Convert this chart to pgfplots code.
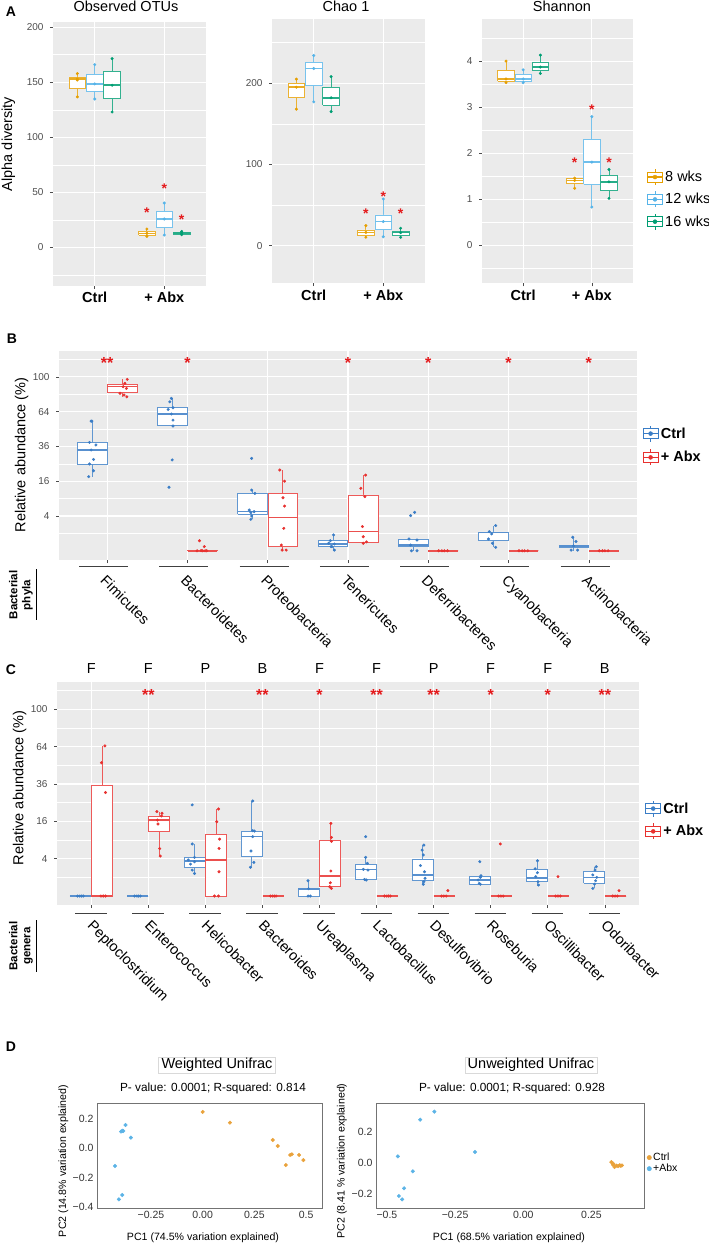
\documentclass[border=0pt]{standalone}
\usepackage{fontspec}
\setmainfont{Liberation Sans}
\usepackage{pgfplots}
\pgfplotsset{compat=1.18}

\definecolor{panel}{HTML}{EBEBEB}
\definecolor{tickgray}{HTML}{4D4D4D}
\definecolor{aOr}{HTML}{E69F00}
\definecolor{aBl}{HTML}{56B4E9}
\definecolor{aGr}{HTML}{009E73}
\definecolor{cBl}{HTML}{3A7DC6}
\definecolor{xRd}{HTML}{E8312F}
\definecolor{sRd}{HTML}{E41A1C}
\definecolor{dOr}{HTML}{E9A23B}
\definecolor{dBl}{HTML}{5BB3E6}

\newcommand{\fs}[1]{\fontsize{#1}{#1}\selectfont}
\def\bhw{0.12}% half width of a box, axis units
\def\sfs{14}% size of the significance stars
% box: colour, position, lower whisker, lower quartile, median, upper quartile, upper whisker
\newcommand{\bx}[7]{%
  \pgfmathsetmacro\xa{#2-\bhw}\pgfmathsetmacro\xb{#2+\bhw}%
  \edef\tmp{%
  \noexpand\addplot[forget plot, draw=#1!80, line width=0.8pt] coordinates {(#2,#3) (#2,#4)};
  \noexpand\addplot[forget plot, draw=#1!80, line width=0.8pt] coordinates {(#2,#6) (#2,#7)};
  \noexpand\addplot[forget plot, draw=#1!80, fill=white, line width=0.8pt]
     coordinates {(\xa,#4) (\xb,#4) (\xb,#6) (\xa,#6) (\xa,#4)};
  \noexpand\addplot[forget plot, draw=#1!85, line width=1.6pt] coordinates {(\xa,#5) (\xb,#5)};}%
  \tmp}
\newcommand{\pts}[2]{\addplot[forget plot, only marks, mark=*, mark size=1.3pt, color=#1] coordinates {#2};}
\newcommand{\sig}[3]{\node[text=sRd, font=\bfseries\fs{\sfs}, inner sep=0pt, yshift=-3pt] at (axis cs:#1,#2) {#3};}

\pgfplotsset{
  legend image code/.code={
    \draw[#1, line width=0.8pt, fill=white] (0pt,-5pt) rectangle (15pt,5pt);
    \draw[#1, line width=0.8pt] (7.5pt,5pt) -- (7.5pt,8pt) (7.5pt,-5pt) -- (7.5pt,-8pt);
    \draw[#1, line width=1.4pt] (0pt,0pt) -- (15pt,0pt);
    \fill[#1] (7.5pt,0pt) circle (2pt);
  },
  gg/.style={scale only axis, anchor=north west,
    axis background/.style={fill=panel}, axis line style={draw=none},
    xmajorgrids, ymajorgrids, yminorgrids,
    major grid style={white, line width=1.1pt}, minor grid style={white, line width=0.5pt},
    tick align=outside, tick pos=left, major tick length=3pt, minor tick length=0pt,
    tick style={black!70, line width=0.5pt},
    yticklabel style={font=\fs{10}, text=tickgray, xshift=-3pt},
    /pgf/number format/assume math mode=true,
    clip=false, legend cell align=left,
  },
  ggA/.style={gg, width=153pt, height=264pt, xmin=0.4, xmax=2.6,
    xtick={1,2}, xticklabels={Ctrl,+ Abx},
    xticklabel style={font=\bfseries\fs{14.5}, text=black}},
  ggB/.style={gg, ymin=-0.53, ymax=11.48,
    ytick={2,4,6,8,10}, yticklabels={4,16,36,64,100}, minor ytick={1,3,5,7,9,11},
    legend style={draw=none, fill=none, inner sep=0pt, font=\bfseries\fs{14.5}, nodes={inner sep=2pt}}},
}

\begin{document}
\begin{tikzpicture}
\useasboundingbox (0,0) rectangle (709pt,-1243pt);

% ---------------- A: observed OTUs
\begin{axis}[ggA, at={(53pt,-21.7pt)}, ymin=-34.8, ymax=205,
  ytick={0,50,100,150,200}, minor ytick={-25,25,75,125,175}]
\bx{aOr}{0.75}{136.7}{144.5}{153}{154.8}{157.9}
\pts{aOr}{(0.75,157.9) (0.75,153) (0.75,152) (0.75,136.7)}
\bx{aBl}{1}{134.8}{141.5}{148.5}{157.3}{166}
\pts{aBl}{(1,166) (1,148.5) (1,134.8)}
\bx{aGr}{1.25}{123}{135.2}{147.3}{159.7}{171.5}
\pts{aGr}{(1.25,171.5) (1.25,147.3) (1.25,123)}
\bx{aOr}{1.75}{10}{10.9}{12.7}{14.5}{16.7}
\pts{aOr}{(1.75,16.7) (1.75,12.7) (1.75,10)}
\bx{aBl}{2}{11.2}{17.9}{25.8}{32.7}{40.3}
\pts{aBl}{(2,40.3) (2,25.8) (2,11.2)}
\bx{aGr}{2.25}{11.5}{11.8}{13}{13.9}{14.5}
\pts{aGr}{(2.25,14.5) (2.25,13) (2.25,11.5)}
\sig{1.75}{34.2}{*}\sig{2}{56}{*}\sig{2.25}{27.9}{*}
\end{axis}

% ---------------- A: Chao 1
\begin{axis}[ggA, at={(272pt,-19pt)}, ymin=-46, ymax=279,
  ytick={0,100,200}, minor ytick={50,150,250}]
\bx{aOr}{0.75}{168}{182}{195}{200}{205}
\pts{aOr}{(0.75,205) (0.75,195) (0.75,168)}
\bx{aBl}{1}{177}{197}{218}{226}{234}
\pts{aBl}{(1,234) (1,218) (1,177)}
\bx{aGr}{1.25}{165}{173}{182}{195}{208}
\pts{aGr}{(1.25,208) (1.25,182) (1.25,165)}
\bx{aOr}{1.75}{10.3}{12.3}{16.4}{19.3}{24.6}
\pts{aOr}{(1.75,24.6) (1.75,16.4) (1.75,10.3)}
\bx{aBl}{2}{11}{20.1}{29.6}{37.8}{57.5}
\pts{aBl}{(2,57.5) (2,29.6) (2,11)}
\bx{aGr}{2.25}{10.3}{12.7}{16}{18}{21.4}
\pts{aGr}{(2.25,21.4) (2.25,16) (2.25,10.3)}
\sig{1.75}{43}{*}\sig{2}{64.5}{*}\sig{2.25}{43}{*}
\end{axis}

% ---------------- A: Shannon
\begin{axis}[ggA, at={(482pt,-19.3pt)}, width=151pt, ymin=-0.83, ymax=4.92,
  ytick={0,1,2,3,4}, minor ytick={-0.5,0.5,1.5,2.5,3.5,4.5},
  legend style={at={(1.09,0.435)}, anchor=north west, draw=none, fill=none,
    inner sep=0pt, font=\fs{14.5}, row sep=5.5pt, nodes={inner sep=2pt}}]
\bx{aOr}{0.75}{3.54}{3.57}{3.62}{3.81}{4.01}
\pts{aOr}{(0.75,4.01) (0.75,3.62) (0.75,3.54)}
\bx{aBl}{1}{3.54}{3.57}{3.62}{3.71}{3.82}
\pts{aBl}{(1,3.82) (1,3.62) (1,3.54)}
\bx{aGr}{1.25}{3.74}{3.81}{3.88}{3.99}{4.14}
\pts{aGr}{(1.25,4.14) (1.25,3.88) (1.25,3.74)}
\bx{aOr}{1.75}{1.24}{1.35}{1.41}{1.46}{1.46}
\pts{aOr}{(1.75,1.46) (1.75,1.41) (1.75,1.24)}
\bx{aBl}{2}{0.83}{1.33}{1.81}{2.30}{2.80}
\pts{aBl}{(2,2.80) (2,1.81) (2,0.83)}
\bx{aGr}{2.25}{1.02}{1.19}{1.38}{1.51}{1.65}
\pts{aGr}{(2.25,1.65) (2.25,1.38) (2.25,1.02)}
\sig{1.75}{1.86}{*}\sig{2}{3.01}{*}\sig{2.25}{1.86}{*}
\addlegendimage{aOr}\addlegendentry{8 wks}
\addlegendimage{aBl}\addlegendentry{12 wks}
\addlegendimage{aGr}\addlegendentry{16 wks}
\end{axis}

\def\bhw{0.185}
\def\sfs{16}
% ---------------- B: phyla (y in square-root scale, values = sqrt of %)
\begin{axis}[ggB, at={(59pt,-351pt)}, width=578pt, height=209pt, xmin=0.4, xmax=7.6,
  xtick={1,...,7},
  xticklabels={Fimicutes,Bacteroidetes,Proteobacteria,Tenericutes,Deferribacteres,Cyanobacteria,Actinobacteria},
  xticklabel style={font=\fs{14.5}, text=black, xshift=0pt, yshift=-11pt, rotate=-45, anchor=north west, inner sep=0pt},
  legend style={at={(1.009,0.646)}, anchor=north west, row sep=7pt}]
\bx{cBl}{0.8125}{4.26}{4.99}{5.79}{6.21}{7.45}
\pts{cBl}{(0.80,7.45) (0.81,7.45) (0.78,6.23) (0.86,6.08) (0.80,5.79) (0.83,5.25) (0.78,4.99) (0.83,4.60) (0.77,4.26)}
\bx{xRd}{1.1875}{8.85}{9.10}{9.43}{9.56}{9.85}
\pts{xRd}{(1.25,9.85) (1.22,9.62) (1.20,9.43) (1.24,9.33) (1.16,9.05) (1.245,8.85) (1.21,8.95)}
\bx{cBl}{1.8125}{7.1}{7.19}{7.86}{8.22}{8.76}
\pts{cBl}{(1.80,8.76) (1.78,8.56) (1.82,8.22) (1.76,8.12) (1.80,7.86) (1.82,7.51) (1.82,7.17) (1.81,5.22) (1.77,3.65)}
\bx{xRd}{2.1875}{0}{0}{0}{0.04}{0.04}
\pts{xRd}{(2.15,0.58) (2.21,0.24) (2.17,0.01) (2.22,0) (2.12,0) (2.19,0) (2.24,0)}
\bx{cBl}{2.8125}{1.81}{2.10}{2.25}{3.30}{3.49}
\pts{cBl}{(2.80,5.31) (2.80,3.49) (2.84,3.30) (2.77,2.34) (2.83,2.25) (2.79,2.19) (2.80,2.0) (2.79,1.81)}
\bx{xRd}{3.1875}{0}{0.24}{1.92}{3.30}{4.64}
\pts{xRd}{(3.15,4.64) (3.21,4.0) (3.19,3.05) (3.21,2.57) (3.20,1.29) (3.17,0.33) (3.18,0.04) (3.23,0.04)}
\bx{cBl}{3.8125}{0}{0.24}{0.39}{0.58}{0.91}
\pts{cBl}{(3.82,0.91) (3.78,0.58) (3.76,0.43) (3.83,0.39) (3.80,0.24) (3.83,0.04) (3.79,0.24)}
\bx{xRd}{4.1875}{0.39}{0.47}{1.10}{3.21}{4.35}
\pts{xRd}{(4.22,4.35) (4.16,3.59) (4.21,3.11) (4.18,1.39) (4.19,0.81) (4.19,0.43) (4.23,0.51)}
\bx{cBl}{4.8125}{0}{0.24}{0.33}{0.68}{0.68}
\pts{cBl}{(4.78,2.02) (4.83,2.21) (4.76,0.68) (4.86,0.62) (4.78,0.33) (4.79,0) (4.86,0)}
\bx{xRd}{5.1875}{0}{0}{0}{0}{0}
\pts{xRd}{(5.13,0) (5.17,0) (5.20,0) (5.24,0)}
\bx{cBl}{5.8125}{0.20}{0.58}{1.06}{1.08}{1.45}
\pts{cBl}{(5.84,1.45) (5.76,1.10) (5.79,0.97) (5.75,0.68) (5.80,0.43) (5.84,0.20)}
\bx{xRd}{6.1875}{0}{0}{0}{0}{0}
\pts{xRd}{(6.13,0) (6.17,0) (6.20,0) (6.24,0)}
\bx{cBl}{6.8125}{0}{0.20}{0.28}{0.33}{0.78}
\pts{cBl}{(6.80,0.78) (6.84,0.53) (6.81,0.28) (6.78,0.04) (6.86,0.04)}
\bx{xRd}{7.1875}{0}{0}{0}{0}{0}
\pts{xRd}{(7.13,0) (7.17,0) (7.20,0) (7.24,0)}
\sig{1}{10.96}{**}\sig{2}{10.96}{*}\sig{4}{10.96}{*}\sig{5}{10.96}{*}\sig{6}{10.96}{*}\sig{7}{10.96}{*}
\foreach \c in {1,...,7} {\edef\tmp{\noexpand\draw[line width=1pt, black!75] (axis cs:\c-0.35,-0.93) -- (axis cs:\c+0.26,-0.93);}\tmp}
\addlegendimage{cBl}\addlegendentry{Ctrl}
\addlegendimage{xRd}\addlegendentry{+ Abx}
\end{axis}

% ---------------- C: genera
\begin{axis}[ggB, at={(57pt,-682pt)}, width=582pt, height=223pt, xmin=0.4, xmax=10.6,
  ymin=-0.48, ymax=11.46, xtick={1,...,10},
  xticklabels={Peptoclostridium,Enterococcus,Helicobacter,Bacteroides,Ureaplasma,Lactobacillus,Desulfovibrio,Roseburia,Oscillibacter,Odoribacter},
  xticklabel style={font=\fs{14.5}, text=black, xshift=3pt, yshift=-11pt, rotate=-45, anchor=north west, inner sep=0pt},
  legend style={at={(1.010,0.471)}, anchor=north west, row sep=6pt}]
\bx{cBl}{0.8125}{0}{0}{0}{0}{0}
\pts{cBl}{(0.76,0) (0.80,0) (0.83,0) (0.86,0)}
\bx{xRd}{1.1875}{0}{0}{0}{5.93}{8.04}
\pts{xRd}{(1.24,8.04) (1.18,7.14) (1.25,5.54) (1.17,0) (1.21,0) (1.25,0)}
\bx{cBl}{1.8125}{0}{0}{0}{0}{0}
\pts{cBl}{(1.76,0) (1.80,0) (1.83,0) (1.86,0)}
\bx{xRd}{2.1875}{2.14}{3.48}{4.07}{4.29}{4.52}
\pts{xRd}{(2.15,4.52) (2.24,4.43) (2.23,4.29) (2.16,4.07) (2.17,3.86) (2.20,2.54) (2.21,2.14)}
\bx{cBl}{2.8125}{1.21}{1.54}{1.89}{2.05}{2.79}
\pts{cBl}{(2.77,4.88) (2.77,2.79) (2.81,2.07) (2.70,1.93) (2.81,1.84) (2.74,1.71) (2.77,1.39) (2.81,1.21)}
\bx{xRd}{3.1875}{0}{0}{1.93}{3.30}{4.66}
\pts{xRd}{(3.23,4.66) (3.20,3.98) (3.25,3.05) (3.24,2.55) (3.24,1.30) (3.16,0) (3.23,0)}
\bx{cBl}{3.8125}{1.54}{2.11}{3.18}{3.48}{5.09}
\pts{cBl}{(3.83,5.09) (3.83,3.50) (3.86,3.48) (3.83,3.18) (3.80,2.41) (3.85,1.80) (3.79,1.54)}
\bx{xRd}{4.1875}{0}{0}{0}{0}{0}
\pts{xRd}{(4.14,0) (4.18,0) (4.21,0) (4.24,0)}
\bx{cBl}{4.8125}{0}{0}{0.39}{0.39}{0.82}
\pts{cBl}{(4.80,0.82) (4.81,0.39) (4.80,0) (4.84,0)}
\bx{xRd}{5.1875}{0.41}{0.50}{1.07}{2.96}{3.89}
\pts{xRd}{(5.20,3.89) (5.21,3.14) (5.21,2.93) (5.20,1.34) (5.19,0.71) (5.18,0.50) (5.21,0.41)}
\bx{cBl}{5.8125}{0.86}{0.89}{1.43}{1.71}{2.02}
\pts{cBl}{(5.81,3.18) (5.81,2.07) (5.84,1.75) (5.77,1.43) (5.85,1.39) (5.79,0.89) (5.82,0.86)}
\bx{xRd}{6.1875}{0}{0}{0}{0}{0}
\pts{xRd}{(6.14,0) (6.18,0) (6.21,0) (6.24,0)}
\bx{cBl}{6.8125}{0.63}{0.86}{1.13}{1.98}{2.73}
\pts{cBl}{(6.83,2.73) (6.80,2.46) (6.82,2.20) (6.77,1.63) (6.84,1.30) (6.85,0.95) (6.83,0.77) (6.82,0.63)}
\bx{xRd}{7.1875}{0}{0}{0}{0}{0}
\pts{xRd}{(7.25,0.29) (7.14,0) (7.18,0) (7.22,0)}
\bx{cBl}{7.8125}{0.63}{0.63}{0.86}{1.04}{1.11}
\pts{cBl}{(7.81,1.84) (7.83,1.09) (7.82,1.0) (7.78,0.86) (7.80,0.68) (7.82,0.63)}
\bx{xRd}{8.1875}{0}{0}{0}{0}{0}
\pts{xRd}{(8.17,2.79) (8.14,0) (8.18,0) (8.22,0)}
\bx{cBl}{8.8125}{0.54}{0.77}{0.98}{1.43}{1.89}
\pts{cBl}{(8.82,1.89) (8.78,1.46) (8.82,1.25) (8.79,1.04) (8.83,0.77) (8.84,0.59)}
\bx{xRd}{9.1875}{0}{0}{0}{0}{0}
\pts{xRd}{(9.18,1.04) (9.14,0) (9.18,0) (9.22,0)}
\bx{cBl}{9.8125}{0.41}{0.68}{1.0}{1.30}{1.57}
\pts{cBl}{(9.85,1.57) (9.83,1.39) (9.79,1.13) (9.86,1.0) (9.84,0.82) (9.82,0.64) (9.79,0.41)}
\bx{xRd}{10.1875}{0}{0}{0}{0}{0}
\pts{xRd}{(10.25,0.29) (10.14,0) (10.18,0) (10.22,0)}
\sig{2}{10.95}{**}\sig{4}{10.95}{**}\sig{5}{10.95}{*}\sig{6}{10.95}{**}\sig{7}{10.95}{**}
\sig{8}{10.95}{*}\sig{9}{10.95}{*}\sig{10}{10.95}{**}
\foreach \c/\l in {1/F,2/F,3/P,4/B,5/F,6/F,7/P,8/F,9/F,10/B}
  {\edef\tmp{\noexpand\node[anchor=base, font=\noexpand\fs{14.5}] at (axis cs:\c,11.94) {\l};}\tmp}
\foreach \c in {1,...,10} {\edef\tmp{\noexpand\draw[line width=1pt, black!75] (axis cs:\c-0.28,-0.96) -- (axis cs:\c+0.27,-0.96);}\tmp}
\addlegendimage{cBl}\addlegendentry{Ctrl}
\addlegendimage{xRd}\addlegendentry{+ Abx}
\end{axis}

% ---------------- D: weighted unifrac
\begin{axis}[scale only axis, anchor=north west, at={(97pt,-1103pt)}, width=225pt, height=105pt,
  xmin=-0.511, xmax=0.577, ymin=-0.407, ymax=0.309,
  axis line style={draw=black!55, line width=0.7pt}, major tick length=0pt,
  xtick={-0.25,0,0.25,0.5}, xticklabels={−0.25,0.00,0.25,0.5},
  ytick={-0.4,-0.2,0,0.2}, yticklabels={−0.4,−0.2,0.0,0.2},
  tick label style={font=\fs{10.5}, text=black!80}]
\addplot[only marks, mark=*, mark size=1.8pt, dBl] coordinates {
  (-0.373,0.159) (-0.395,0.114) (-0.389,0.12) (-0.384,0.118) (-0.347,0.073)
  (-0.424,-0.12) (-0.389,-0.318) (-0.405,-0.348)};
\addplot[only marks, mark=*, mark size=1.8pt, dOr] coordinates {
  (0,0.248) (0.132,0.175) (0.339,0.057) (0.363,0.016) (0.423,-0.045)
  (0.431,-0.041) (0.466,-0.045) (0.487,-0.08) (0.402,-0.114)};
\end{axis}

% ---------------- D: unweighted unifrac
\begin{axis}[scale only axis, anchor=north west, at={(376pt,-1103pt)}, width=268pt, height=105pt,
  xmin=-0.54, xmax=0.443, ymin=-0.292, ymax=0.389,
  axis line style={draw=black!55, line width=0.7pt}, major tick length=0pt,
  xtick={-0.5,-0.25,0,0.25}, xticklabels={−0.5,−0.25,0.00,0.25},
  ytick={-0.2,0,0.2}, yticklabels={−0.2,0.0,0.2},
  tick label style={font=\fs{10.5}, text=black!80},
  legend image code/.code={\fill[#1] (2.2pt,0pt) circle (2.2pt);},
  legend cell align=left,
  legend style={at={(1.01,0.54)}, anchor=north west, draw=none, fill=none, inner sep=0pt,
    font=\fs{10.5}, row sep=-1pt, nodes={inner sep=1.5pt}}]
\addplot[forget plot, only marks, mark=*, mark size=1.8pt, dBl] coordinates {
  (-0.326,0.333) (-0.378,0.281) (-0.177,0.071) (-0.46,0.043) (-0.405,-0.054)
  (-0.437,-0.164) (-0.456,-0.214) (-0.444,-0.236)};
\addplot[forget plot, only marks, mark=*, mark size=1.8pt, dOr] coordinates {
  (0.323,0.006) (0.329,-0.011) (0.335,-0.026) (0.342,-0.017) (0.348,-0.02)
  (0.354,-0.015) (0.358,-0.018) (0.362,-0.016) (0.330,-0.005)};
\addlegendimage{dOr}\addlegendentry{Ctrl}
\addlegendimage{dBl}\addlegendentry{+Abx}
\end{axis}

% ---------------- texts
\node[font=\bfseries\fs{14}] at (11pt,-12pt) {A};
\node[font=\fs{14.5}, anchor=base] at (126pt,-11.7pt) {Observed OTUs};
\node[font=\fs{14.5}, anchor=base] at (346pt,-11.7pt) {Chao 1};
\node[font=\fs{14.5}, anchor=base] at (562pt,-11pt) {Shannon};
\node[font=\fs{14.5}, rotate=90] at (8.5pt,-144pt) {Alpha diversity};

\node[font=\bfseries\fs{14}] at (12pt,-339pt) {B};
\node[font=\fs{14.5}, rotate=90] at (21.7pt,-455pt) {Relative abundance (\%)};
\node[font=\bfseries\fontsize{11.5}{13}\selectfont, rotate=90, align=center, inner sep=0pt] at (21pt,-595pt) {Bacterial\\phyla};
\draw[line width=0.8pt] (36pt,-569pt) -- (36pt,-620pt);

\node[font=\bfseries\fs{14}] at (11pt,-670pt) {C};
\node[font=\fs{14.5}, rotate=90] at (19.5pt,-788pt) {Relative abundance (\%)};
\node[font=\bfseries\fontsize{11.5}{13}\selectfont, rotate=90, align=center, inner sep=0pt] at (21pt,-946pt) {Bacterial\\genera};
\draw[line width=0.8pt] (36pt,-920pt) -- (36pt,-972pt);

\node[font=\bfseries\fs{14}] at (11pt,-1047pt) {D};
\node[draw=black!15, fill=white, inner xsep=3pt, inner ysep=1.5pt, font=\fs{14.5}] at (217pt,-1065pt) {Weighted Unifrac};
\node[font=\fs{11.8}, anchor=base] at (213pt,-1091.7pt) {P- value: 0.0001; R-squared: 0.814};
\node[font=\fs{10.6}, anchor=base] at (203pt,-1240pt) {PC1 (74.5\% variation explained)};
\node[font=\fs{10.6}, rotate=90] at (63.5pt,-1161pt) {PC2 (14.8\% variation explained)};
\node[draw=black!15, fill=white, inner xsep=3pt, inner ysep=1.5pt, font=\fs{14.5}] at (531pt,-1065pt) {Unweighted Unifrac};
\node[font=\fs{11.8}, anchor=base] at (512pt,-1091.7pt) {P- value: 0.0001; R-squared: 0.928};
\node[font=\fs{10.6}, anchor=base] at (509pt,-1240pt) {PC1 (68.5\% variation explained)};
\node[font=\fs{10.6}, rotate=90] at (342pt,-1161pt) {PC2 (8.41 \% variation explained)};
\end{tikzpicture}
\end{document}
